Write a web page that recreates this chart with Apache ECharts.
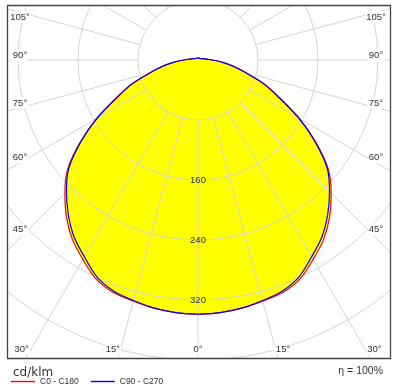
<!DOCTYPE html>
<html>
<head>
<meta charset="utf-8">
<script src="https://cdn.jsdelivr.net/npm/echarts@6/dist/echarts.min.js"></script>
<style>html,body{margin:0;padding:0;background:#fff}#c{width:398px;height:388px}</style>
</head>
<body>
<div id="c"></div>
<script>
// gamma angles (deg from nadir)
const gammaAngles = [0,5,10,15,20,25,30,35,40,45,50,55,60,65,70,75,80,85,90,95,100,105,110,115,120,125,130,135,140,145,150,155,160,165,170,175,180];
// luminous intensity, cd/klm
const c0c180  = [339,338,336,333,330,322,307,292,273,251,227,192,155,119,93,66,47,31,19,12,9,7,5,4,4,3,3,3,3,3,3,3,3,3,3,3,3];
const c90c270 = [339,338,336,332,328,319,303,288,269,248,225,191,156,121,95,67,48,32,19,12,9,7,5,4,4,3,3,3,3,3,3,3,3,3,3,3,3];
const seriesNames = ['C0 - C180', 'C90 - C270'];
const seriesColors = ['#ff0000', '#0000ff'];
const angleTickLabels = [0,15,30,45,60,75,90,105];
const radiusTickLabels = [160,240,320];
const unitLabel = 'cd/klm';
const efficiencyLabel = 'η = 100%';

const CX = 198, CY = 60, R = 360, RMAX = 480;

function loop(vals) {
  const pts = [];
  for (let i = 0; i < gammaAngles.length; i++) pts.push([vals[i], gammaAngles[i]]);
  for (let i = gammaAngles.length - 2; i >= 0; i--) pts.push([vals[i], 360 - gammaAngles[i]]);
  return pts;
}

// tick-label positions derived from the angle geometry
function labelPos(g, side) {
  const a = (g === 0 ? 0 : g + 1.4) * Math.PI / 180;
  const xl = 178, yB = 349, yT = 17;
  const s = Math.sin(a), c = Math.cos(a);
  if (s > 1e-6) {
    const t = xl / s;
    const y = CY + t * c;
    if (y <= yB) return [CX + side * xl, Math.max(yT, y)];
  }
  const t = (yB - CY) / c;
  return [CX + side * t * s, yB];
}

const graphics = [
  {type:'rect', shape:{x:0,y:0,width:398,height:5}, style:{fill:'#fff'}, z:100, silent:true},
  {type:'rect', shape:{x:0,y:0,width:7,height:388}, style:{fill:'#fff'}, z:100, silent:true},
  {type:'rect', shape:{x:391,y:0,width:7,height:388}, style:{fill:'#fff'}, z:100, silent:true},
  {type:'rect', shape:{x:0,y:359,width:398,height:29}, style:{fill:'#fff'}, z:100, silent:true},
  {type:'rect', shape:{x:7.5,y:5.5,width:383,height:353}, style:{fill:null, stroke:'#444', lineWidth:1.3}, z:101, silent:true},
  {type:'text', x:13, y:373, style:{text:unitLabel, fill:'#333', font:'12px "DejaVu Sans"', verticalAlign:'middle', align:'left'}, z:110},
  {type:'text', x:383, y:371, style:{text:efficiencyLabel, fill:'#333', font:'10.5px "Liberation Sans"', verticalAlign:'middle', align:'right'}, z:110}
];
angleTickLabels.forEach(g => {
  const sides = g === 0 ? [1] : [-1, 1];
  sides.forEach(sd => {
    const p = labelPos(g, sd);
    graphics.push({type:'text', x:p[0], y:p[1], z:105,
      style:{text: g + '°', fill:'#333', font:'9.5px "Liberation Sans"', align:'center', verticalAlign:'middle',
             backgroundColor:'#fff', padding:[1,1]}});
  });
});

const chart = echarts.init(document.getElementById('c'), null, {renderer:'canvas'});
chart.setOption({
  animation: false,
  polar: [
    {center:[CX, CY], radius:[R * 80 / RMAX, R]},
    {center:[CX, CY], radius:[0, R]}
  ],
  angleAxis: [
    {polarIndex:0, type:'value', min:0, max:360, interval:15, startAngle:-90, clockwise:false, z:5,
     axisLine:{show:false}, axisTick:{show:false}, axisLabel:{show:false},
     splitLine:{show:true, lineStyle:{color:'#d4d4d4', width:1}}},
    {polarIndex:1, type:'value', min:0, max:360, interval:15, startAngle:-90, clockwise:false,
     axisLine:{show:false}, axisTick:{show:false}, axisLabel:{show:false}, splitLine:{show:false}}
  ],
  radiusAxis: [
    {polarIndex:0, type:'value', min:80, max:RMAX, interval:80, z:5,
     axisLine:{show:false}, axisTick:{show:false},
     axisLabel:{show:true, margin:0, align:'center', verticalAlign:'middle', fontSize:9.5, color:'#333',
       fontFamily:'Liberation Sans',
       formatter: v => radiusTickLabels.includes(v) ? String(v) : ''},
     splitLine:{show:true, lineStyle:{color:'#d4d4d4', width:1}}},
    {polarIndex:1, type:'value', min:0, max:RMAX, interval:80,
     axisLine:{show:false}, axisTick:{show:false}, axisLabel:{show:false}, splitLine:{show:false}}
  ],
  legend: {
    data: seriesNames.map((n, i) => ({name: n, itemStyle: {color: seriesColors[i], borderWidth: 0}})),
    left: 11, top: 377, padding: 0, z: 110, icon: 'rect', itemWidth: 24, itemHeight: 1.4, itemGap: 12,
    textStyle: {fontSize: 8.5, color: '#333', fontFamily: 'Liberation Sans'}
  },
  graphic: graphics,
  series: [
    {type:'line', name:'fill', coordinateSystem:'polar', polarIndex:1, data: loop(c0c180), symbol:'none', smooth:0.3,
     lineStyle:{opacity:0}, areaStyle:{color:'#ffff00', opacity:1}, z:1, silent:true},
    {type:'line', name:seriesNames[0], coordinateSystem:'polar', polarIndex:1, data: loop(c0c180), symbol:'none', smooth:0.3,
     itemStyle:{color:seriesColors[0]}, lineStyle:{color:seriesColors[0], width:1.2}, z:10},
    {type:'line', name:seriesNames[1], coordinateSystem:'polar', polarIndex:1, data: loop(c90c270), symbol:'none', smooth:0.3,
     itemStyle:{color:seriesColors[1]}, lineStyle:{color:seriesColors[1], width:1.2}, z:11}
  ]
});
</script>
</body>
</html>
